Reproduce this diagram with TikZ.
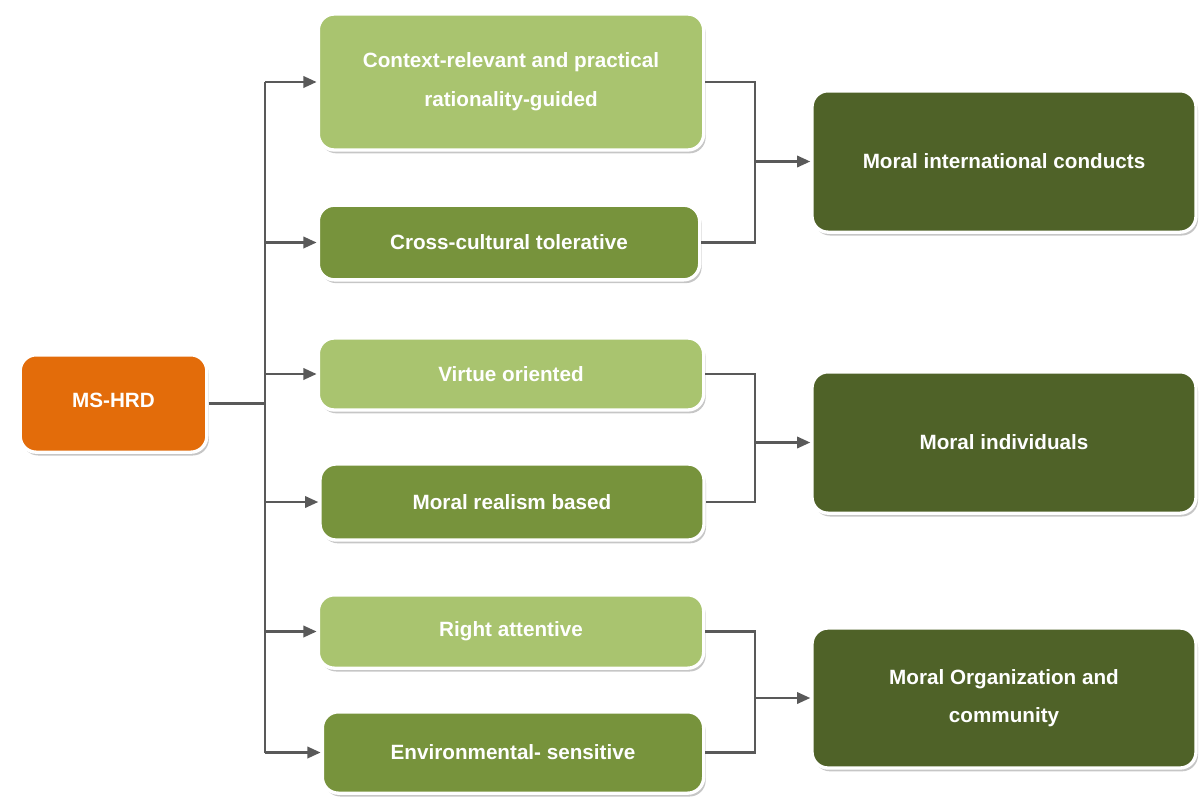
\documentclass[tikz,border=0pt]{standalone}
\usepackage{fontspec}
\setmainfont{Liberation Sans}
\usetikzlibrary{shadows,arrows.meta}

\definecolor{hrdorange}{RGB}{227,108,10}
\definecolor{lightgreen}{RGB}{169,196,111}
\definecolor{midgreen}{RGB}{119,147,60}
\definecolor{darkgreen}{RGB}{79,98,40}
\definecolor{linegray}{RGB}{89,89,89}

\tikzset{
  box/.style={draw=white, line width=2.5pt, rounded corners=12pt, text=white,
    align=center, inner sep=0pt,
    font=\bfseries\fontsize{15.5}{29}\selectfont,
    drop shadow={shadow xshift=1.5pt, shadow yshift=-2.5pt, opacity=0.45, fill=gray}},
  connect/.style={draw=linegray, line width=2pt},
  feed/.style={connect, -{Triangle[length=10pt,width=8.5pt]}},
}

\begin{document}
\begin{tikzpicture}[x=0.75pt,y=0.75pt,yscale=-1,xscale=1]
\useasboundingbox (0,0) rectangle (1201,803);

%Shape: source box
\node (hrd) [box, fill=hrdorange, minimum width=140pt, minimum height=73pt] at (113.5,403.5) {\raisebox{5pt}{MS-HRD}};

%Shape: left column
\node (ctx) [box, fill=lightgreen, minimum width=289pt, minimum height=102pt] at (511,82) {Context-relevant and practical\\rationality-guided};
\node (cross) [box, fill=midgreen, minimum width=286pt, minimum height=56pt] at (509,242.5) {Cross-cultural tolerative};
\node (virtue) [box, fill=lightgreen, minimum width=289pt, minimum height=54pt] at (511,374) {Virtue oriented};
\node (realism) [box, fill=midgreen, minimum width=288pt, minimum height=57pt] at (512,502) {Moral realism based};
\node (right) [box, fill=lightgreen, minimum width=289pt, minimum height=55pt] at (511,631.5) {Right attentive};
\node (env) [box, fill=midgreen, minimum width=286pt, minimum height=61pt] at (513,752.5) {Environmental- sensitive};

%Shape: right column
\node (conduct) [box, fill=darkgreen, minimum width=288pt, minimum height=106pt] at (1004,161.5) {Moral international conducts};
\node (indiv) [box, fill=darkgreen, minimum width=288pt, minimum height=106pt] at (1004,442.5) {Moral individuals};
\node (org) [box, fill=darkgreen, minimum width=288pt, minimum height=105pt] at (1004,698) {Moral Organization and\\community};

%Straight Lines: trunk
\coordinate (trunk) at (265,403.5);
\draw [connect] (hrd.east) -- (trunk);
\draw [connect] (trunk |- ctx.west) -- (trunk |- env.west);
\foreach \b in {ctx,cross,virtue,realism,right,env}
  \draw [feed] (trunk |- \b.west) -- (\b.west);

%Straight Lines: brackets
\coordinate (join) at (755,0);
\draw [connect] (ctx.east) -| (join |- cross.east) -- (cross.east);
\draw [feed] (join |- conduct.west) -- (conduct.west);
\draw [connect] (virtue.east) -| (join |- realism.east) -- (realism.east);
\draw [feed] (join |- indiv.west) -- (indiv.west);
\draw [connect] (right.east) -| (join |- env.east) -- (env.east);
\draw [feed] (join |- org.west) -- (org.west);

\end{tikzpicture}
\end{document}
